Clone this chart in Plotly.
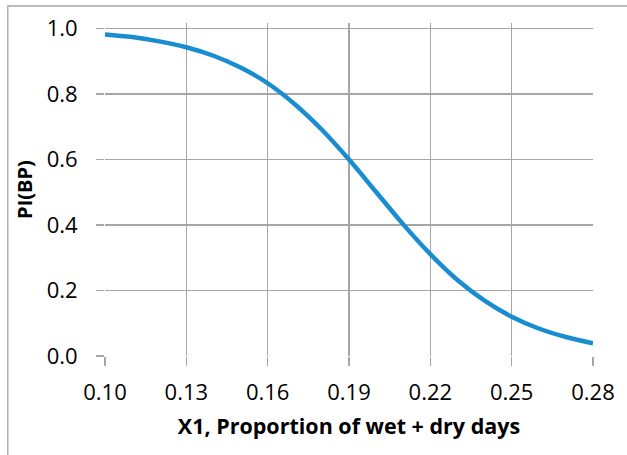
import plotly.graph_objects as go

# Data
x_vals = [0.10, 0.11, 0.12, 0.13, 0.14, 0.15, 0.16, 0.17, 0.18, 0.19,
          0.20, 0.21, 0.22, 0.23, 0.24, 0.25, 0.26, 0.27, 0.28]
pi_bp = [0.982, 0.974, 0.961, 0.943, 0.917, 0.881, 0.833, 0.769, 0.691, 0.600,
         0.501, 0.402, 0.311, 0.232, 0.169, 0.120, 0.084, 0.058, 0.039]
x_ticks = [0.10, 0.13, 0.16, 0.19, 0.22, 0.25, 0.28]
x_tick_text = ["0.10", "0.13", "0.16", "0.19", "0.22", "0.25", "0.28"]
y_ticks = [0.0, 0.2, 0.4, 0.6, 0.8, 1.0]
y_tick_text = ["0.0", "0.2", "0.4", "0.6", "0.8", "1.0"]

FONT = "Open Sans, Noto Sans, sans-serif"
GRID = "#a6a6a6"

fig = go.Figure()
fig.add_trace(go.Scatter(
    x=x_vals, y=pi_bp, mode="lines",
    line=dict(color="#1a8dd0", width=4.5, shape="spline"),
    hoverinfo="skip", showlegend=False,
))

fig.update_layout(
    width=627, height=455,
    margin=dict(l=105, r=30, t=23, b=99),
    paper_bgcolor="white", plot_bgcolor="white",
    font=dict(family=FONT, size=22, color="#000000"),
    xaxis=dict(
        range=[0.10, 0.28], tickvals=x_ticks, ticktext=x_tick_text,
        showgrid=True, gridcolor=GRID, gridwidth=1.3, zeroline=False,
        ticks="outside", ticklen=9, tickcolor=GRID, tickwidth=1.3,
        ticklabelstandoff=8, ticklabeloverflow="allow",
        title=dict(text="<b>X1, Proportion of wet + dry days</b>",
                   font=dict(family=FONT, size=21.5), standoff=13),
    ),
    yaxis=dict(
        range=[0, 1.017], tickvals=y_ticks, ticktext=y_tick_text,
        showgrid=True, gridcolor=GRID, gridwidth=1.3, zeroline=False,
        ticks="outside", ticklen=8, tickcolor=GRID, tickwidth=1.3,
        ticklabelstandoff=14,
        title=dict(text="<b>PI(BP)</b>", font=dict(family=FONT, size=20), standoff=8),
    ),
)

# Chart-area border (top and left visible in the cropped reference)
fig.add_shape(type="rect", xref="paper", yref="paper",
              x0=(7 - 105) / 492, x1=1.2, y0=-0.5, y1=(356 - 6) / 333,
              line=dict(color=GRID, width=1.3), layer="below")

fig.write_html(
    "out.html",
    config={"displayModeBar": False, "staticPlot": True},
    post_script="document.body.style.margin='0';document.body.style.overflow='hidden';",
)
